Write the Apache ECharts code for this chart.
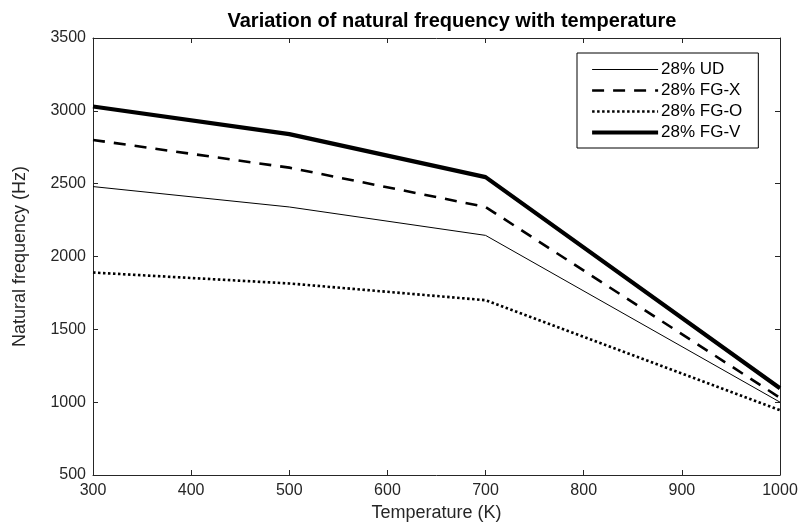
<!DOCTYPE html>
<html>
<head>
<meta charset="utf-8">
<script src="https://cdn.jsdelivr.net/npm/echarts@6/dist/echarts.min.js"></script>
<style>html,body{margin:0;padding:0;background:#fff;}#c{width:802px;height:531px;}</style>
</head>
<body>
<div id="c"></div>
<script>
const temperatures = [300, 500, 700, 1000];
const ud  = [2480, 2340, 2145, 1000];
const fgX = [2800, 2610, 2340, 1030];
const fgO = [1890, 1815, 1700, 945];
const fgV = [3030, 2840, 2545, 1095];
const seriesNames = ['28% UD', '28% FG-X', '28% FG-O', '28% FG-V'];

const pairs = arr => temperatures.map((t, i) => [t, arr[i]]);
const FONT = 'Liberation Sans, Arial, sans-serif';
const AX = '#262626';
const styles = [
  {color: '#000', width: 1, type: 'solid'},
  {color: '#000', width: 2.6, type: [12, 9]},
  {color: '#000', width: 2.6, type: [2.5, 2.5]},
  {color: '#000', width: 4.2, type: 'solid'}
];
const seriesData = [ud, fgX, fgO, fgV];

const chart = echarts.init(document.getElementById('c'), null, {renderer: 'canvas'});
const axisCommon = {
  axisLine: {show: true, lineStyle: {color: AX, width: 1}},
  axisTick: {show: true, inside: true, length: 5, lineStyle: {color: AX}},
  splitLine: {show: false}
};
chart.setOption({
  animation: false,
  backgroundColor: '#fff',
  title: {
    text: 'Variation of natural frequency with temperature',
    left: 447, top: 6, textAlign: 'center',
    textStyle: {fontFamily: FONT, fontSize: 20, fontWeight: 'bold', color: '#000'}
  },
  grid: {left: 93, right: 22, top: 38, bottom: 56, containLabel: false},
  legend: {
    orient: 'vertical', left: 577, top: 53,
    padding: [8, 16, 7, 13],
    itemWidth: 66, itemHeight: 14, itemGap: 4,
    borderColor: '#000', borderWidth: 1, backgroundColor: '#fff',
    itemStyle: {opacity: 0},
    textStyle: {fontFamily: FONT, fontSize: 17, color: '#000', padding: [0, 0, 0, -2]},
    data: seriesNames.map((n, i) => ({name: n, lineStyle: styles[i], itemStyle: {opacity: 0}}))
  },
  xAxis: [
    Object.assign({
      type: 'value', min: 300, max: 1000, interval: 100, position: 'bottom',
      name: 'Temperature (K)', nameLocation: 'middle', nameGap: 29,
      nameTextStyle: {fontFamily: FONT, fontSize: 18, color: AX},
      axisLabel: {fontFamily: FONT, fontSize: 16, color: AX, margin: 8, formatter: v => String(v)}
    }, axisCommon),
    Object.assign({
      type: 'value', min: 300, max: 1000, interval: 100, position: 'top',
      axisLabel: {show: false}
    }, axisCommon)
  ],
  yAxis: [
    Object.assign({
      type: 'value', min: 500, max: 3500, interval: 500, position: 'left',
      name: 'Natural frequency (Hz)', nameLocation: 'middle', nameGap: 64,
      nameTextStyle: {fontFamily: FONT, fontSize: 18, color: AX},
      axisLabel: {fontFamily: FONT, fontSize: 16, color: AX, margin: 7, formatter: v => String(v)}
    }, axisCommon),
    Object.assign({
      type: 'value', min: 500, max: 3500, interval: 500, position: 'right',
      axisLabel: {show: false}
    }, axisCommon)
  ],
  series: seriesNames.map((n, i) => ({
    name: n, type: 'line', data: pairs(seriesData[i]), symbol: 'none',
    lineStyle: styles[i], itemStyle: {color: '#000'}
  }))
});
</script>
</body>
</html>
